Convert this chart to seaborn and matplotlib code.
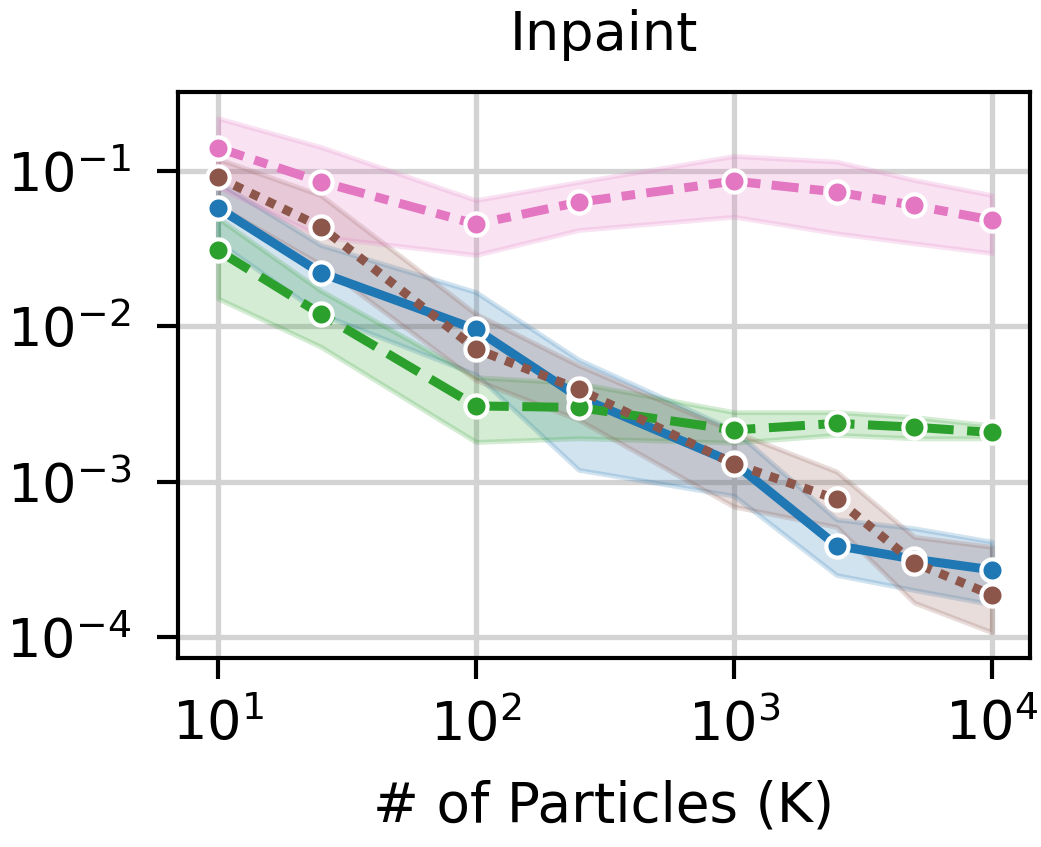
import matplotlib
matplotlib.use("Agg")
import matplotlib.pyplot as plt
import seaborn as sns
import pandas as pd

# Number of particles (K)
particles = [10, 25, 100, 250, 1000, 2500, 5000, 10000]

# Mean error per method
method_a = [0.058, 0.0221, 0.00955, 0.0035, 0.00132, 0.000387, 0.000316, 0.00027]
method_b = [0.0308, 0.012, 0.00307, 0.0030, 0.00215, 0.00237, 0.00224, 0.00207]
method_c = [0.091, 0.0438, 0.00714, 0.00393, 0.00130, 0.00077, 0.00030, 0.000186]
method_d = [0.141, 0.0853, 0.0455, 0.063, 0.0862, 0.0733, 0.060, 0.0483]

# Band lower / upper bounds
a_low = [0.035, 0.012, 0.0049, 0.00119, 0.00081, 0.00025, 0.0002, 0.000162]
a_high = [0.085, 0.0334, 0.0166, 0.0061, 0.00215, 0.00057, 0.0005, 0.00041]
b_low = [0.0151, 0.0074, 0.0018, 0.0019, 0.00178, 0.0020, 0.0019, 0.0019]
b_high = [0.0498, 0.017, 0.0047, 0.0043, 0.0028, 0.0028, 0.0026, 0.0023]
c_low = [0.06, 0.025, 0.0045, 0.0025, 0.00069, 0.00051, 0.000166, 0.000107]
c_high = [0.12, 0.07, 0.012, 0.0056, 0.0021, 0.00116, 0.00044, 0.00038]
d_low = [0.079, 0.0377, 0.0288, 0.0417, 0.0508, 0.0397, 0.0342, 0.0296]
d_high = [0.219, 0.143, 0.065, 0.085, 0.125, 0.115, 0.0875, 0.070]

methods = ["A", "B", "C", "D"]
means = [method_a, method_b, method_c, method_d]
lows = [a_low, b_low, c_low, d_low]
highs = [a_high, b_high, c_high, d_high]

tab = sns.color_palette("tab10")
colors = [tab[0], tab[2], tab[5], tab[6]]

rows = []
for m, vals in zip(methods, means):
    for k, v in zip(particles, vals):
        rows.append({"K": k, "error": v, "method": m})
df = pd.DataFrame(rows)

sns.set_theme(style="whitegrid")
plt.rcParams.update({
    "font.family": ["DejaVu Sans"],
    "text.color": "black",
    "axes.labelcolor": "black",
    "axes.edgecolor": "black",
    "axes.linewidth": 3,
    "grid.color": "#d3d3d3",
    "grid.linewidth": 3.8,
    "xtick.bottom": True,
    "ytick.left": True,
    "xtick.major.size": 15,
    "ytick.major.size": 15,
    "xtick.major.width": 3,
    "ytick.major.width": 3,
    "xtick.color": "black",
    "ytick.color": "black",
})

fig = plt.figure(figsize=(10.41, 8.47), dpi=100)
ax = fig.add_axes([0.171, 0.2231, 0.8183, 0.6683])

for lo, hi, c in zip(lows, highs, colors):
    ax.fill_between(particles, lo, hi, color=c, alpha=0.2, linewidth=3.5)

sns.lineplot(data=df, x="K", y="error", hue="method", style="method",
             palette=colors, markers=["o"] * 4, dashes=True,
             linewidth=6.5, markersize=16, markeredgecolor="white",
             markeredgewidth=3, legend=False, ax=ax)

ax.set_xscale("log")
ax.set_yscale("log")
ax.set_xlim(7.0, 14030)
ax.set_ylim(7.3e-5, 0.323)
ax.minorticks_off()
ax.tick_params(labelsize=39)
ax.tick_params(axis="x", pad=14)
ax.tick_params(axis="y", pad=19)
ax.set_title("Inpaint", fontsize=39, pad=30, color="black")
ax.set_xlabel("# of Particles (K)", fontsize=39.5, labelpad=20)
ax.set_ylabel("")

fig.savefig("out.png", dpi=100)
